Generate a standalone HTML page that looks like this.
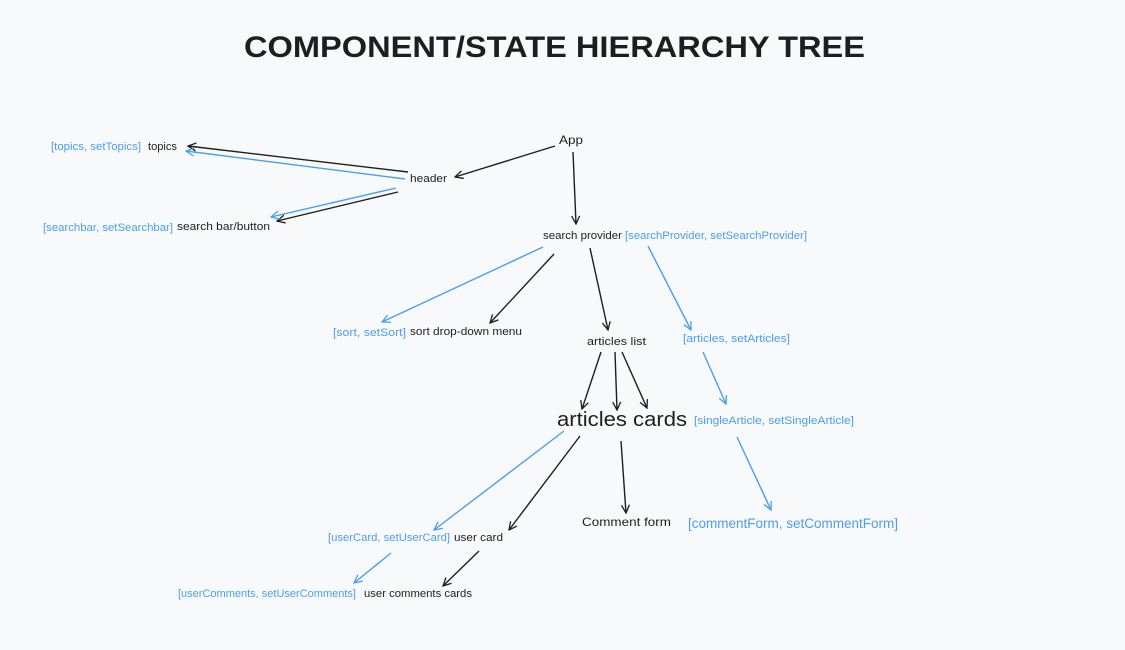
<!DOCTYPE html>
<html><head><meta charset="utf-8"><style>
html,body{margin:0;padding:0;background:#f8f9fb;}
svg{display:block}
text{font-family:"Liberation Sans",sans-serif;}
.k{fill:#1e1e1e;font-size:11px}
.b{fill:#4a9eed;font-size:11px}
</style></head><body>
<svg width="1125" height="650" viewBox="0 0 1125 650" xmlns="http://www.w3.org/2000/svg">
<defs>
<marker id="ak" markerWidth="10" markerHeight="10" refX="9" refY="5" orient="auto" markerUnits="userSpaceOnUse"><path d="M1,1 L9,5 L1,9" fill="none" stroke="#1e1e1e" stroke-width="1.3"/></marker>
<marker id="ab" markerWidth="10" markerHeight="10" refX="9" refY="5" orient="auto" markerUnits="userSpaceOnUse"><path d="M1,1 L9,5 L1,9" fill="none" stroke="#4a9eed" stroke-width="1.3"/></marker>
</defs>
<text x="244" y="57" textLength="621" lengthAdjust="spacingAndGlyphs" style="font-size:30px;font-weight:bold;fill:#1e1e1e">COMPONENT/STATE HIERARCHY TREE</text>
<g stroke="#1e1e1e" stroke-width="1.4" fill="none" marker-end="url(#ak)">
<line x1="555" y1="146" x2="455" y2="177"/>
<line x1="573" y1="152" x2="576" y2="224"/>
<line x1="408" y1="172" x2="188" y2="146"/>
<line x1="398" y1="192" x2="277" y2="221"/>
<line x1="554" y1="254" x2="490" y2="323"/>
<line x1="590" y1="248" x2="608" y2="330"/>
<line x1="601" y1="352" x2="582" y2="409"/>
<line x1="615" y1="352" x2="617" y2="410"/>
<line x1="622" y1="352" x2="647" y2="408"/>
<line x1="580" y1="436" x2="509" y2="530"/>
<line x1="621" y1="441" x2="626" y2="513"/>
<line x1="479" y1="551" x2="443" y2="586"/>
</g>
<g stroke="#4a9eed" stroke-width="1.4" fill="none" marker-end="url(#ab)">
<line x1="405" y1="179" x2="186" y2="151"/>
<line x1="396" y1="188" x2="271" y2="217"/>
<line x1="543" y1="247" x2="382" y2="322"/>
<line x1="648" y1="246" x2="691" y2="330"/>
<line x1="703" y1="352" x2="726" y2="404"/>
<line x1="737" y1="437" x2="771" y2="510"/>
<line x1="564" y1="431" x2="434" y2="530"/>
<line x1="391" y1="553" x2="354" y2="583"/>
</g>
<text class="k" x="559" y="144" textLength="24" lengthAdjust="spacingAndGlyphs" style="font-size:12px">App</text>
<text class="b" x="51" y="150" textLength="90" lengthAdjust="spacingAndGlyphs">[topics, setTopics]</text>
<text class="k" x="148" y="150" textLength="29" lengthAdjust="spacingAndGlyphs">topics</text>
<text class="k" x="410" y="182" textLength="37" lengthAdjust="spacingAndGlyphs">header</text>
<text class="b" x="43" y="231" textLength="130" lengthAdjust="spacingAndGlyphs">[searchbar, setSearchbar]</text>
<text class="k" x="177" y="230" textLength="93" lengthAdjust="spacingAndGlyphs">search bar/button</text>
<text class="k" x="543" y="239" textLength="79" lengthAdjust="spacingAndGlyphs">search provider</text>
<text class="b" x="625" y="239" textLength="182" lengthAdjust="spacingAndGlyphs">[searchProvider, setSearchProvider]</text>
<text class="b" x="333" y="336" textLength="73" lengthAdjust="spacingAndGlyphs">[sort, setSort]</text>
<text class="k" x="410" y="335" textLength="112" lengthAdjust="spacingAndGlyphs">sort drop-down menu</text>
<text class="k" x="587" y="345" textLength="59" lengthAdjust="spacingAndGlyphs">articles list</text>
<text class="b" x="683" y="342" textLength="107" lengthAdjust="spacingAndGlyphs">[articles, setArticles]</text>
<text class="k" x="557" y="426" textLength="130" lengthAdjust="spacingAndGlyphs" style="font-size:20px">articles cards</text>
<text class="b" x="694" y="424" textLength="160" lengthAdjust="spacingAndGlyphs">[singleArticle, setSingleArticle]</text>
<text class="k" x="582" y="526" textLength="89" lengthAdjust="spacingAndGlyphs" style="font-size:12px">Comment form</text>
<text class="b" x="688" y="528" textLength="210" lengthAdjust="spacingAndGlyphs" style="font-size:13.5px">[commentForm, setCommentForm]</text>
<text class="b" x="328" y="541" textLength="122" lengthAdjust="spacingAndGlyphs">[userCard, setUserCard]</text>
<text class="k" x="454" y="541" textLength="49" lengthAdjust="spacingAndGlyphs">user card</text>
<text class="b" x="178" y="597" textLength="178" lengthAdjust="spacingAndGlyphs">[userComments, setUserComments]</text>
<text class="k" x="364" y="597" textLength="108" lengthAdjust="spacingAndGlyphs">user comments cards</text>
</svg>
</body></html>
